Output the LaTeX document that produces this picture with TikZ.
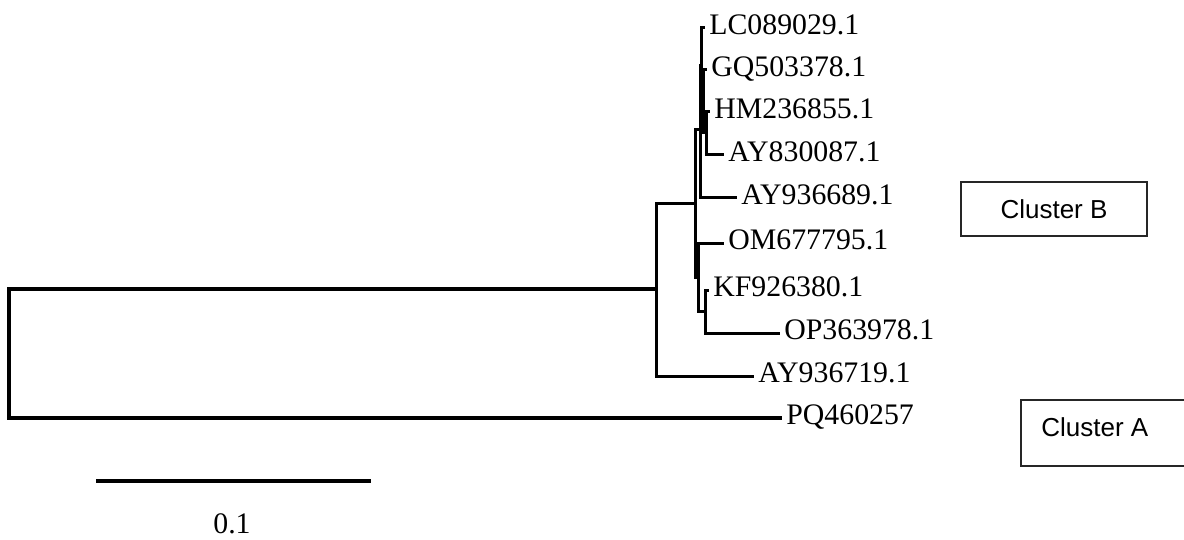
\documentclass[tikz,border=0pt]{standalone}
\usepackage{fontspec}
\setmainfont{Liberation Serif}
\newfontfamily\arialfont{Liberation Sans}
\begin{document}
\begin{tikzpicture}[x=0.5pt,y=-0.5pt,
  br/.style={line width=1.5pt,line cap=rect},
  leaf/.style={anchor=west,inner ysep=0pt,inner xsep=3pt,font=\fontsize{14.9}{16}\selectfont,text height=0.66em,text depth=0pt},
  clbox/.style={draw=black!85,line width=0.75pt,font=\arialfont\fontsize{13}{15}\selectfont}]
\useasboundingbox (0,0) rectangle (1184,540);
% internal nodes
\coordinate (R) at (9,289);
\coordinate (N1) at (656,289);
\coordinate (N2) at (695,203);
\coordinate (N5) at (700,130);
\coordinate (N6) at (701,66);
\coordinate (N7) at (703,101);
\coordinate (N8) at (706,133);
\coordinate (N3) at (698,277);
\coordinate (N4) at (705,311);
% leaves
\node[leaf] (lc) at (703,28) {LC089029.1};
\node[leaf] (gq) at (705,70) {GQ503378.1};
\node[leaf] (hm) at (708,112) {HM236855.1};
\node[leaf] (ay8) at (722,155) {AY830087.1};
\node[leaf] (ay9) at (735,198) {AY936689.1};
\node[leaf] (om) at (722,243) {OM677795.1};
\node[leaf] (kf) at (707,290) {KF926380.1};
\node[leaf] (op) at (778,333) {OP363978.1};
\node[leaf] (ay7) at (752,376) {AY936719.1};
\node[leaf] (pq) at (780,418) {PQ460257};
% branches
\draw[br,line width=2pt] (R) |- (N1);
\draw[br,line width=2pt] (R) |- (pq.west);
\draw[br] (N1) |- (N2);
\draw[br] (N1) |- (ay7.west);
\draw[br] (N2) |- (N5);
\draw[br] (N2) |- (N3);
\draw[br] (N5) |- (N6);
\draw[br] (N5) |- (ay9.west);
\draw[br] (N6) |- (lc.west);
\draw[br] (N6) |- (N7);
\draw[br] (N7) |- (gq.west);
\draw[br] (N7) |- (N8);
\draw[br] (N8) |- (hm.west);
\draw[br] (N8) |- (ay8.west);
\draw[br] (N3) |- (om.west);
\draw[br] (N3) |- (N4);
\draw[br] (N4) |- (kf.west);
\draw[br] (N4) |- (op.west);
% scale bar
\coordinate (sb1) at (96,481);
\coordinate (sb2) at (371,481);
\draw[line width=2pt] (sb1) -- (sb2);
\node[font=\fontsize{14.9}{16}\selectfont] (sbl) at (232,524) {0.1};
% cluster boxes
\node[clbox,minimum width=93pt,minimum height=27pt] (cB) at (1054,209) {Cluster B};
\draw[draw=black!85,line width=0.75pt] (1200,400) -- (1021,400) -- (1021,466) -- (1200,466);
\node[font=\arialfont\fontsize{13}{15}\selectfont,anchor=west,inner sep=0pt] (cA) at (1041,427) {Cluster A};
\end{tikzpicture}
\end{document}
